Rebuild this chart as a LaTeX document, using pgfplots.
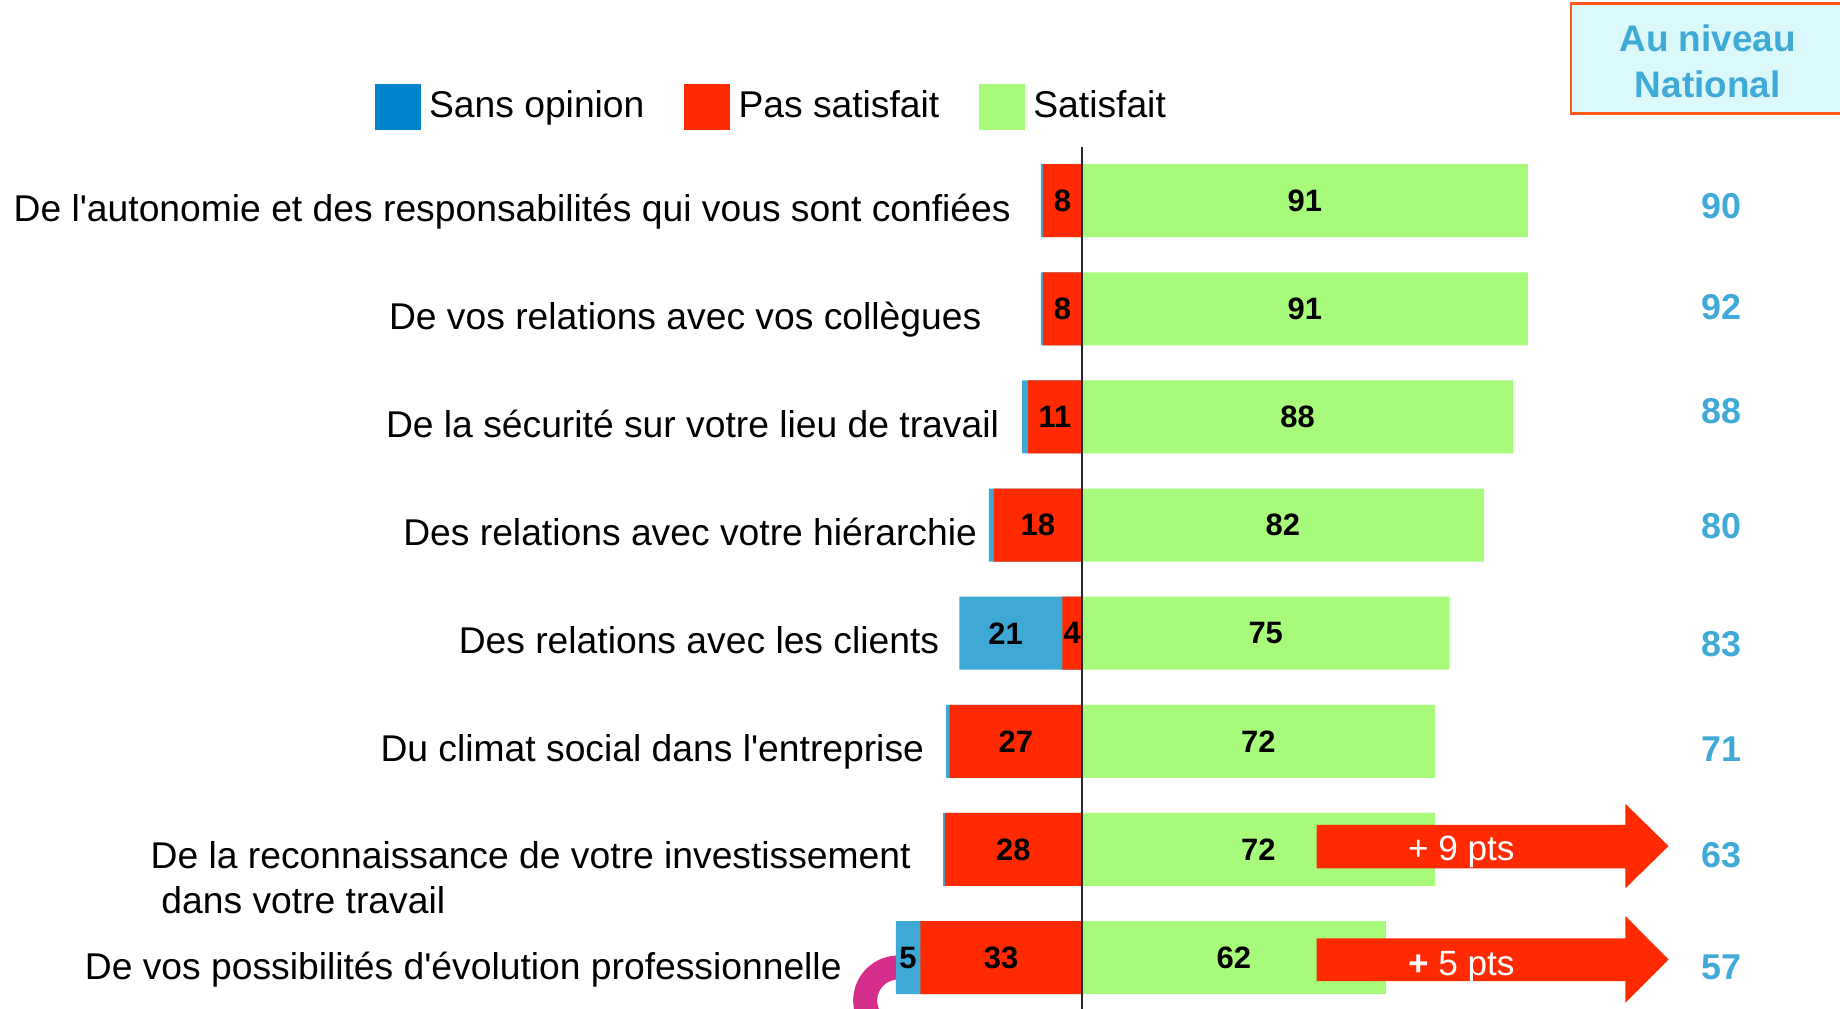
\documentclass[border=0pt]{standalone}
\usepackage{fontspec}
\setmainfont{Liberation Sans}
\usepackage{pgfplots}
\usepackage{pgfplotstable}
\pgfplotsset{compat=1.18}

\definecolor{cBlue}{HTML}{3FA9D6}
\definecolor{cBlueLeg}{HTML}{0082CC}
\definecolor{cRed}{HTML}{FF2A00}
\definecolor{cGreen}{HTML}{A8FA7A}
\definecolor{cNat}{HTML}{3FAAD8}
\definecolor{cBoxFill}{HTML}{DBF8FA}
\definecolor{cBoxDraw}{HTML}{FF5A1E}
\definecolor{cPink}{HTML}{D52E8C}

% row 1 = top bar
\pgfplotstableread{
row blue red green
1   0.4  8   91
2   0.4  8   91
3   1.2  11  88
4   1.0  18  82
5   21   4   75
6   0.7  27  72
7   0.35 28  72
8   5    33  62
}\satdata

\newcommand{\lab}{\fontsize{10.6}{12.7}\selectfont}
\newcommand{\val}{\fontsize{8.8}{10}\selectfont\bfseries}
\newcommand{\q}{\textquotesingle}

\begin{document}
\begin{tikzpicture}
\begin{axis}[
    scale only axis,
    width=18.4cm, height=10.08cm,
    xmin=-220.8, xmax=154.7,
    ymin=-0.856, ymax=8.466,
    y dir=reverse,
    axis lines=none,
    clip=false,
    bar width=0.675,
    legend columns=-1,
    legend style={
        at={(axis cs:-144.5,0.13)}, anchor=west,
        draw=none, fill=none, inner sep=0pt,
        font=\lab,
        nodes={inner xsep=0.85mm, inner ysep=0pt},
        /tikz/every even column/.append style={column sep=3.1mm},
    },
    legend image code/.code={\fill[#1] (0mm,-2.3mm) rectangle (4.6mm,2.3mm);},
    lbl/.style={only marks, mark=text, text mark={}, forget plot,
        nodes near coords, point meta=explicit symbolic},
]
% curved pointer cut by the bottom edge
\draw[cPink, line width=2.4mm] (axis cs:-35.2,8.11) arc[start angle=70, end angle=205, radius=3.3mm];

\addplot[xbar, bar shift=0pt, fill=cBlue, draw=none,
    legend image code/.code={\fill[cBlueLeg] (0mm,-2.3mm) rectangle (4.6mm,2.3mm);}]
    table[x expr=-\thisrow{red}-\thisrow{blue}, y=row] {\satdata};
\addlegendentry{Sans opinion}
\addplot[xbar, bar shift=0pt, fill=cRed, draw=none]
    table[x expr=-\thisrow{red}, y=row] {\satdata};
\addlegendentry{Pas satisfait}
\addplot[xbar, bar shift=0pt, fill=cGreen, draw=none]
    table[x=green, y=row] {\satdata};
\addlegendentry{Satisfait}

% values inside the bars
\addplot[lbl, every node near coord/.append style={anchor=center, font=\val}]
    table[x expr=-\thisrow{red}/2, y=row, meta=red] {\satdata};
\addplot[lbl, every node near coord/.append style={anchor=center, font=\val}]
    table[x expr=\thisrow{green}/2, y=row, meta=green] {\satdata};
\addplot[lbl, every node near coord/.append style={anchor=center, font=\val}]
    coordinates {(-15.6,5)[21] (-35.5,8)[5]};

% zero line
\draw[black!85, line width=0.7pt] (axis cs:0,0.5) -- (axis cs:0,8.6);

% arrows
\fill[cRed] (axis cs:47.9,6.773) -- (axis cs:110.9,6.773) -- (axis cs:110.9,6.578)
    -- (axis cs:119.7,6.968) -- (axis cs:110.9,7.359) -- (axis cs:110.9,7.175)
    -- (axis cs:47.9,7.175) -- cycle;
\fill[cRed] (axis cs:47.9,7.821) -- (axis cs:110.9,7.821) -- (axis cs:110.9,7.616)
    -- (axis cs:119.7,8.017) -- (axis cs:110.9,8.418) -- (axis cs:110.9,8.217)
    -- (axis cs:47.9,8.217) -- cycle;
\node[white, font=\fontsize{10}{12}\selectfont] at (axis cs:77.4,7.02) {+ 9 pts};
\node[white, font=\fontsize{10}{12}\selectfont] at (axis cs:77.4,8.09) {\textbf{+} 5 pts};

% national column
\draw[cBoxDraw, line width=0.8pt, fill=cBoxFill] (axis cs:99.8,-0.824) rectangle (axis cs:160,0.196);
\node[text=cNat, font=\fontsize{10.5}{13}\selectfont\bfseries, align=center]
    at (axis cs:127.7,-0.287) {Au niveau\\National};
\addplot[lbl, every node near coord/.append style={anchor=center, text=cNat,
    font=\fontsize{10.2}{12}\selectfont\bfseries}]
    coordinates {(130.5,1.05)[90] (130.5,1.98)[92] (130.5,2.945)[88] (130.5,4.01)[80]
                 (130.5,5.105)[83] (130.5,6.07)[71] (130.5,7.05)[63] (130.5,8.09)[57]};

% category labels
\begin{scope}[every node/.style={font=\lab, inner sep=0pt}]
\node[anchor=base east] at (axis cs:-14.4,1.195) {De l\q autonomie et des responsabilités qui vous sont confiées};
\node[anchor=base east] at (axis cs:-20.4,2.19) {De vos relations avec vos collègues};
\node[anchor=base east] at (axis cs:-16.8,3.19) {De la sécurité sur votre lieu de travail};
\node[anchor=base east] at (axis cs:-21.3,4.185) {Des relations avec votre hiérarchie};
\node[anchor=base east] at (axis cs:-29.0,5.185) {Des relations avec les clients};
\node[anchor=base east] at (axis cs:-32.1,6.185) {Du climat social dans l\q entreprise};
\node[anchor=base west] at (axis cs:-190.2,7.18) {De la reconnaissance de votre investissement};
\node[anchor=base west] at (axis cs:-188.0,7.59) {dans votre travail};
\node[anchor=base east] at (axis cs:-48.9,8.2) {De vos possibilités d\q évolution professionnelle};
\end{scope}
\end{axis}
\pgfresetboundingbox
\useasboundingbox (0,0) rectangle (18.4cm,10.08cm);
\end{tikzpicture}
\end{document}
